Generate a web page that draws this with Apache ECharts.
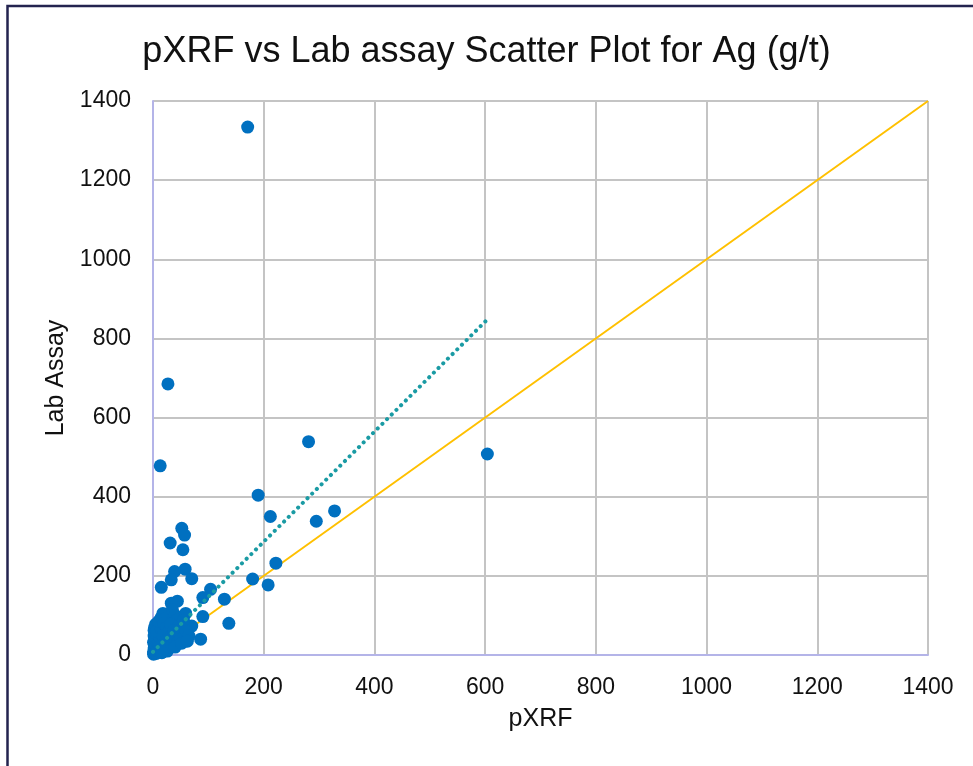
<!DOCTYPE html>
<html>
<head>
<meta charset="utf-8">
<script src="https://cdn.jsdelivr.net/npm/echarts@6/dist/echarts.min.js"></script>
<style>
  html, body { margin: 0; padding: 0; background: #fff; }
  #chart { width: 973px; height: 766px; }
</style>
</head>
<body>
<div id="chart"></div>
<script>
// pXRF readings vs lab assay (g/t)
const pxrf = [
  171, 27, 13, 281, 604, 190, 212, 295, 328, 52,
  57, 31, 54, 222, 58, 39, 70, 33, 15, 180,
  208, 104, 90, 129, 44, 33, 59, 90, 137, 86,
  70,
  1, 2, 1, 3, 2, 4, 1, 3, 2, 4, 2, 3, 5,
  8, 10, 12, 6, 14, 10, 15,
  18, 22, 20, 25, 28, 18, 24, 30, 20, 26,
  35, 40, 42, 32, 45, 38, 48, 36, 44, 50, 40,
  55, 60, 65, 52, 62, 6, 9, 12, 16
];
const labAssay = [
  1334, 685, 478, 539, 508, 404, 350, 338, 364, 320,
  303, 283, 266, 232, 217, 211, 193, 190, 171, 192,
  177, 166, 145, 141, 136, 131, 105, 97, 80, 40,
  73,
  2, 5, 8, 12, 18, 25, 32, 40, 48, 55, 62, 70, 78,
  15, 30, 45, 60, 68, 85, 95,
  105, 92, 80, 70, 58, 48, 38, 28, 18, 10,
  115, 100, 88, 78, 72, 62, 55, 45, 32, 40, 20,
  88, 60, 48, 30, 35, 4, 10, 22, 6
];
// linear trend of lab vs pXRF, and the 1:1 line
const trendX = [0, 604];
const trendY = [8, 848];
const oneToOne = [0, 1400];

const axisTicks = { min: 0, max: 1400, interval: 200 };
const font = 'Liberation Sans';

const chart = echarts.init(document.getElementById('chart'));

const option = {
  animation: false,
  title: {
    text: 'pXRF vs Lab assay Scatter Plot for Ag (g/t)',
    left: 'center',
    top: 29,
    textStyle: { fontFamily: font, fontSize: 36, fontWeight: 'normal', color: '#111' }
  },
  grid: { left: 153, top: 101, width: 775, height: 554 },
  xAxis: {
    type: 'value',
    ...axisTicks,
    name: 'pXRF',
    nameLocation: 'middle',
    nameGap: 52,
    nameTextStyle: { fontFamily: font, fontSize: 25, color: '#111' },
    axisLine: { show: true, lineStyle: { color: '#b4b4e8', width: 2 } },
    axisTick: { show: false },
    axisLabel: { fontFamily: font, fontSize: 23, color: '#111', margin: 21, formatter: v => String(v) },
    splitLine: { lineStyle: { color: '#c4c4c4', width: 2 } }
  },
  yAxis: {
    type: 'value',
    ...axisTicks,
    name: 'Lab Assay',
    nameLocation: 'middle',
    nameGap: 80,
    nameTextStyle: { fontFamily: font, fontSize: 25, color: '#111' },
    axisLine: { show: true, lineStyle: { color: '#b4b4e8', width: 2 } },
    axisTick: { show: false },
    axisLabel: { fontFamily: font, fontSize: 23, color: '#111', margin: 22, formatter: v => String(v) },
    splitLine: { lineStyle: { color: '#c4c4c4', width: 2 } }
  },
  graphic: [{
    type: 'rect',
    shape: { x: 7.5, y: 6, width: 2000, height: 2000 },
    style: { fill: 'none', stroke: '#23234f', lineWidth: 2.5 },
    silent: true
  }],
  series: [
    {
      type: 'line',
      data: oneToOne.map(v => [v, v]),
      symbol: 'none',
      lineStyle: { color: '#ffc000', width: 2 },
      z: 1
    },
    {
      type: 'scatter',
      data: pxrf.map((x, i) => [x, labAssay[i]]),
      symbolSize: 13,
      itemStyle: { color: '#0070c0', opacity: 1 },
      z: 2
    },
    {
      type: 'line',
      data: trendX.map((x, i) => [x, trendY[i]]),
      symbol: 'none',
      lineStyle: { color: '#1a9ba4', width: 4, type: [0.1, 6.5], cap: 'round' },
      z: 3
    }
  ]
};

chart.setOption(option);
</script>
</body>
</html>
